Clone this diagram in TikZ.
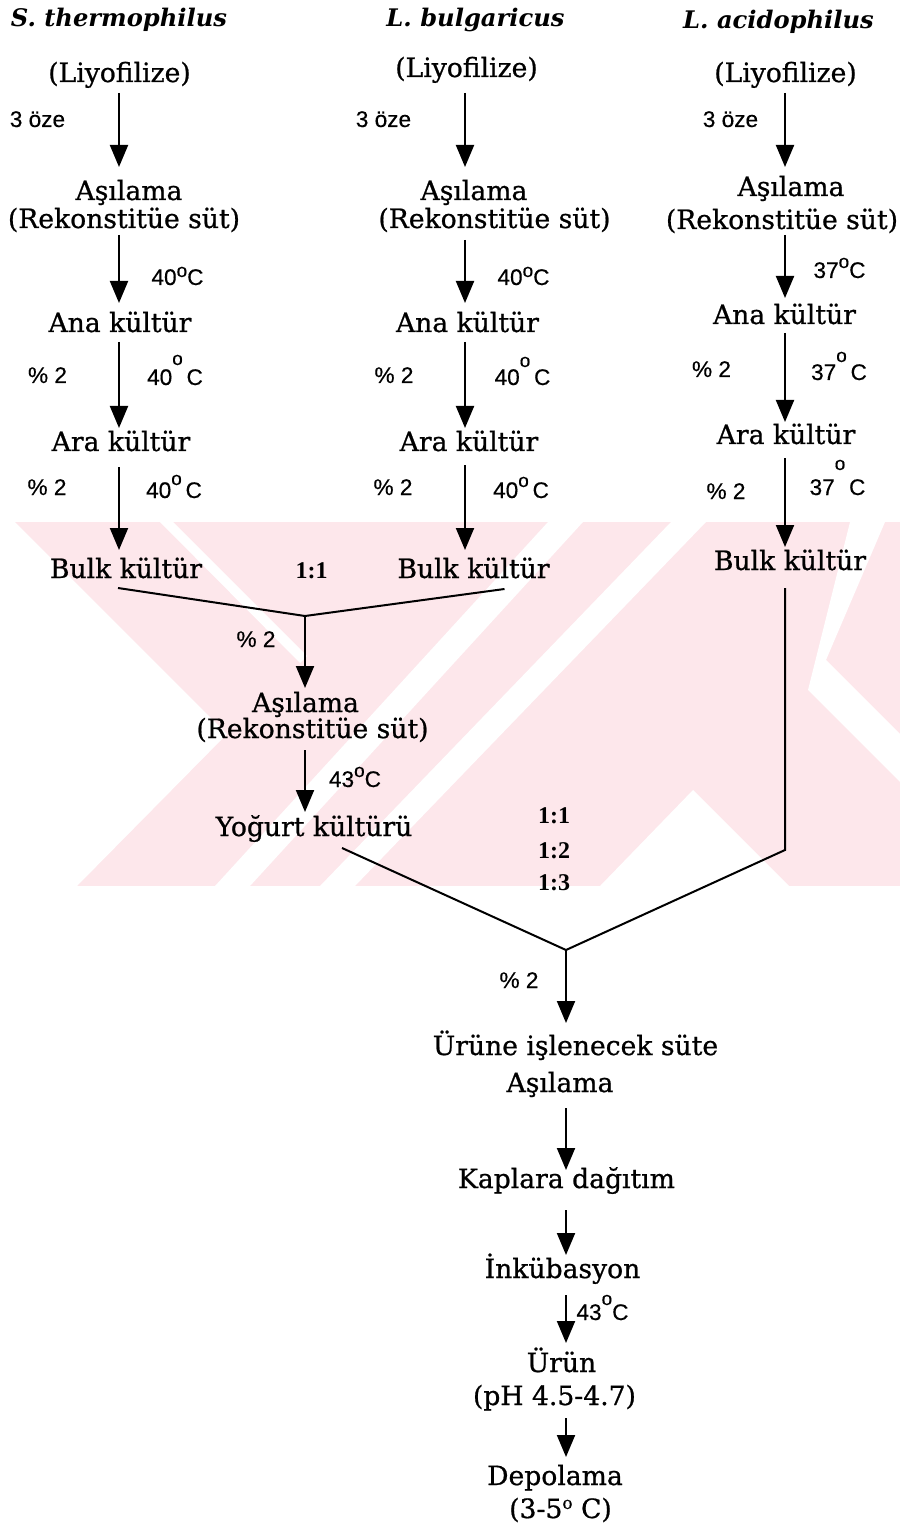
\documentclass[tikz,border=0pt]{standalone}
\usepackage{fontspec}
\setmainfont{DejaVu Serif}
\newfontfamily\bodyfont{DejaVu Serif}[FakeBold=0.8]
\newfontfamily\lblfont{Liberation Sans}[FakeBold=0.4]
\newfontfamily\ratiofont{Liberation Serif}
\usetikzlibrary{arrows.meta,calc}
\definecolor{wmpink}{RGB}{253,231,235}
% raised small "o" used as the degree sign
\newcommand\degr[1]{\raisebox{#1}{\fontsize{9.5}{9.5}\selectfont o}}

\begin{document}
\begin{tikzpicture}[x=0.5pt,y=-0.5pt,
  txt/.style={anchor=base,inner sep=0pt,font=\bodyfont\fontsize{13.3}{13.3}\selectfont},
  ttl/.style={anchor=base,inner sep=0pt,font=\fontsize{12.1}{12.1}\selectfont\bfseries\itshape},
  lbl/.style={anchor=base,inner sep=0pt,font=\lblfont\fontsize{11.3}{11.3}\selectfont},
  ratio/.style={anchor=base,inner sep=0pt,font=\ratiofont\bfseries\fontsize{12}{12}\selectfont},
  wire/.style={line width=1pt},
  arr/.style={line width=1pt,-{Triangle[length=11pt,width=9pt]}}]

\useasboundingbox (0,0) rectangle (900,1529);
\fill[white] (0,0) rectangle (900,1529);

% background band
\begin{scope}
  \clip (0,522) rectangle (900,886);
  \fill[wmpink] (0,522) rectangle (900,886);
  \fill[white] (0,522) -- (15,522) -- (227,734) -- (77,886) -- (0,886) -- cycle;
  \fill[white] (160,522) -- (173,522) -- (307,656) -- (300,663) -- cycle;
  \fill[white] (548,522) -- (583,522) -- (250,886) -- (215,886) -- cycle;
  \fill[white] (671,522) -- (706,522) -- (355,886) -- (320,886) -- cycle;
  \fill[white] (850,522) -- (885,522) -- (826,660) -- (900,734) -- (900,782) -- (808,690) -- cycle;
  \fill[white] (693,790) -- (789,886) -- (600,886) -- cycle;
\end{scope}

% column axes and junctions
\coordinate (c1) at (119,0);
\coordinate (c2) at (465,0);
\coordinate (c3) at (785,0);
\coordinate (cm) at (305,0);
\coordinate (cb) at (566,0);
\coordinate (j1) at (305,616);
\coordinate (j2) at (566,950);
\coordinate (k3) at (785,850);

% headings
\node[ttl] (h1) at (119,27) {S. thermophilus};
\node[ttl] (h2) at (475.5,27) {L. bulgaricus};
\node[ttl] (h3) at (778.5,29) {L. acidophilus};

% first column
\node[txt] (liyo1) at (119.5,82) {(Liyofilize)};
\node[lbl] (oze1) at (37.5,127) {3 öze};
\node[txt] (asi1) at (129,200) {Aşılama};
\node[txt] (rek1) at (124,228) {(Rekonstitüe süt)};
\node[lbl] (t1a) at (177.5,285) {40\degr{4pt}C};
\node[txt] (ana1) at (120,332) {Ana kültür};
\node[lbl] (p1a) at (47.5,383) {\% 2};
\node[lbl] (t1b) at (175,385) {40\degr{10pt}\,C};
\node[txt] (ara1) at (121,451) {Ara kültür};
\node[lbl] (p1b) at (47,495) {\% 2};
\node[lbl] (t1c) at (174,498) {40\degr{6.5pt}\,C};
\node[txt] (bulk1) at (126,578) {Bulk kültür};
\node[ratio] (mix1) at (311.5,578) {1:1};

% second column
\node[txt] (liyo2) at (466.5,77) {(Liyofilize)};
\node[lbl] (oze2) at (383.5,127) {3 öze};
\node[txt] (asi2) at (474,200) {Aşılama};
\node[txt] (rek2) at (494.5,228) {(Rekonstitüe süt)};
\node[lbl] (t2a) at (523.5,285) {40\degr{4pt}C};
\node[txt] (ana2) at (467.5,332) {Ana kültür};
\node[lbl] (p2a) at (394,383) {\% 2};
\node[lbl] (t2b) at (522.5,385) {40\degr{9pt}\,C};
\node[txt] (ara2) at (469,451) {Ara kültür};
\node[lbl] (p2b) at (393,495) {\% 2};
\node[lbl] (t2c) at (521,498) {40\degr{5.5pt}\,C};
\node[txt] (bulk2) at (473.5,578) {Bulk kültür};

% third column
\node[txt] (liyo3) at (785.5,82) {(Liyofilize)};
\node[lbl] (oze3) at (730.5,127) {3 öze};
\node[txt] (asi3) at (791,196) {Aşılama};
\node[txt] (rek3) at (782,229) {(Rekonstitüe süt)};
\node[lbl] (t3a) at (839.5,278) {37\degr{5pt}C};
\node[txt] (ana3) at (784.5,324) {Ana kültür};
\node[lbl] (p3a) at (711.5,377) {\% 2};
\node[lbl] (t3b) at (839,380) {37\degr{9pt}\,C};
\node[txt] (ara3) at (786,444) {Ara kültür};
\node[lbl] (p3b) at (726,499) {\% 2};
\node[lbl] (t3c) at (837.5,495) {37\degr{12.5pt}\,C};
\node[txt] (bulk3) at (790,570) {Bulk kültür};

% yoghurt culture
\node[lbl] (pm) at (256,647) {\% 2};
\node[txt] (asim) at (305.5,712) {Aşılama};
\node[txt] (rekm) at (312.5,738) {(Rekonstitüe süt)};
\node[lbl] (tm) at (355,787) {43\degr{5pt}C};
\node[txt] (yog) at (314,836) {Yoğurt kültürü};
\node[ratio] (mix2) at (554,823) {1:1};
\node[ratio] (mix3) at (554,858) {1:2};
\node[ratio] (mix4) at (554,890) {1:3};

% production line
\node[lbl] (pb) at (519,988) {\% 2};
\node[txt] (uru) at (575.5,1055) {Ürüne işlenecek süte};
\node[txt] (asib) at (560,1092) {Aşılama};
\node[txt] (kap) at (566.5,1188) {Kaplara dağıtım};
\node[txt] (ink) at (562.5,1278) {İnkübasyon};
\node[lbl] (tb) at (602.5,1320) {43\degr{7.5pt}C};
\node[txt] (urun) at (561.5,1372) {Ürün};
\node[txt] (ph) at (554.5,1405) {(pH 4.5-4.7)};
\node[txt] (dep) at (555,1485) {Depolama};
\node[txt] (dep2) at (560.5,1518) {(3-5{\fontsize{8.5}{8.5}\selectfont\raisebox{4.6pt}{o}} C)};

% arrows, first column
\draw[arr] ($(liyo1.base -| c1)+(0,11)$) -- ($(asi1.base -| c1)+(0,-33)$);
\draw[arr] ($(rek1.base -| c1)+(0,7)$) -- ($(ana1.base -| c1)+(0,-29)$);
\draw[arr] ($(ana1.base -| c1)+(0,10)$) -- ($(ara1.base -| c1)+(0,-23)$);
\draw[arr] ($(ara1.base -| c1)+(0,16)$) -- ($(bulk1.base -| c1)+(0,-28)$);

% arrows, second column
\draw[arr] ($(liyo2.base -| c2)+(0,16)$) -- ($(asi2.base -| c2)+(0,-33)$);
\draw[arr] ($(rek2.base -| c2)+(0,12)$) -- ($(ana2.base -| c2)+(0,-29)$);
\draw[arr] ($(ana2.base -| c2)+(0,10)$) -- ($(ara2.base -| c2)+(0,-23)$);
\draw[arr] ($(ara2.base -| c2)+(0,14)$) -- ($(bulk2.base -| c2)+(0,-28)$);

% arrows, third column
\draw[arr] ($(liyo3.base -| c3)+(0,11)$) -- ($(asi3.base -| c3)+(0,-29)$);
\draw[arr] ($(rek3.base -| c3)+(0,6)$) -- ($(ana3.base -| c3)+(0,-26)$);
\draw[arr] ($(ana3.base -| c3)+(0,9)$) -- ($(ara3.base -| c3)+(0,-22)$);
\draw[arr] ($(ara3.base -| c3)+(0,14)$) -- ($(bulk3.base -| c3)+(0,-23)$);

% mixing of the two bulk cultures
\draw[wire] ($(bulk1.base -| c1)+(-1,10)$) -- (j1) -- ($(bulk2.base)+(31,11)$);
\draw[arr] (j1) -- ($(asim.base -| cm)+(0,-24)$);
\draw[arr] ($(rekm.base -| cm)+(0,12)$) -- ($(yog.base -| cm)+(0,-24)$);

% mixing with the acidophilus culture
\draw[wire] ($(bulk3.base -| c3)+(0,18)$) -- (k3) -- (j2) -- ($(yog.base)+(28,12)$);
\draw[arr] (j2) -- ($(uru.base -| cb)+(0,-32)$);
\draw[arr] ($(asib.base -| cb)+(0,16)$) -- ($(kap.base -| cb)+(0,-18)$);
\draw[arr] ($(kap.base -| cb)+(0,22)$) -- ($(ink.base -| cb)+(0,-23)$);
\draw[arr] ($(ink.base -| cb)+(0,17)$) -- ($(urun.base -| cb)+(0,-29)$);
\draw[arr] ($(ph.base -| cb)+(0,13)$) -- ($(dep.base -| cb)+(0,-28)$);
\end{tikzpicture}
\end{document}
